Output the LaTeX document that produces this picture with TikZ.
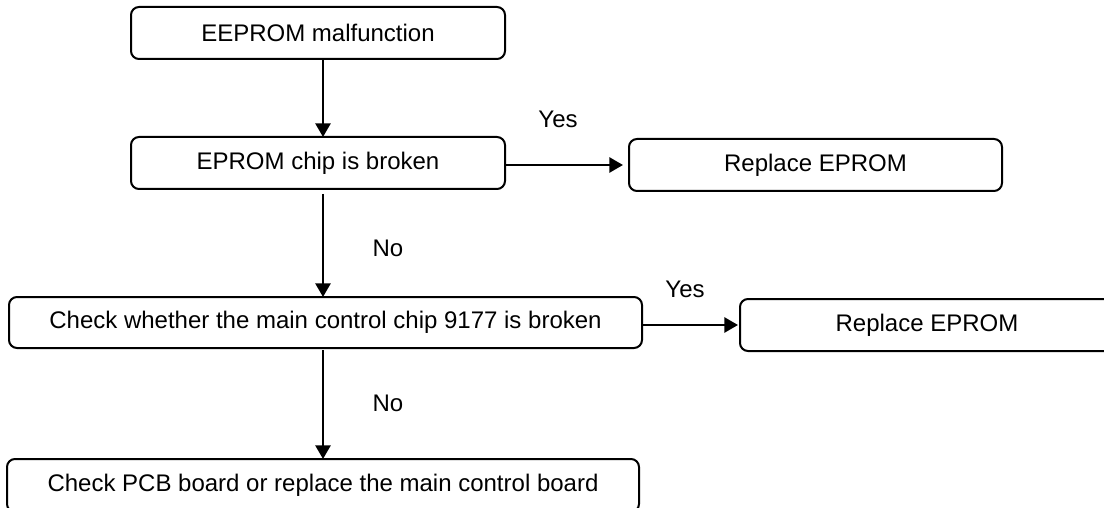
\documentclass[tikz,border=0pt]{standalone}
\usepackage{fontspec}
\setmainfont{Liberation Sans}
\usetikzlibrary{arrows.meta}

\begin{document}
\begin{tikzpicture}[x=0.5pt, y=-0.5pt,
		flowbox/.style={draw, line width=1pt, rounded corners=4pt, inner sep=0pt, outer sep=0pt, font=\fontsize{12}{14}\selectfont},
		flowlabel/.style={font=\fontsize{12}{14}\selectfont},
		flowarrow/.style={line width=1.25pt, -{Triangle[length=6.8pt, width=7.5pt]}}]
		%%%%% START %%%%%
		
		\useasboundingbox (0, 0) rectangle (1104, 508);
		\coordinate (spine) at (323, 0);
		
		\node[flowbox, minimum width=187pt, minimum height=26pt] (malfunction) at (318, 33) {EEPROM malfunction};
		\node[flowbox, minimum width=187pt, minimum height=26pt] (chipbroken) at (318, 163) {EPROM chip is broken};
		\node[flowbox, minimum width=186.5pt, minimum height=26pt] (replaceA) at (815.5, 165) {Replace EPROM};
		
		\node[flowbox, minimum width=316.5pt, minimum height=25.5pt] (checkmain) at (325.5, 322.5) {Check whether the main control chip 9177 is broken};
		\node[flowbox, minimum width=187pt, minimum height=26pt] (replaceB) at (927, 325) {Replace EPROM};
		
		\node[flowbox, minimum width=316pt, minimum height=26.5pt] (checkpcb) at (323, 485.5) {Check PCB board or replace the main control board};
		
		\node[flowlabel] (yesA) at (558, 119) {Yes};
		\node[flowlabel] (noA) at (388, 248) {No};
		\node[flowlabel] (yesB) at (685, 289) {Yes};
		\node[flowlabel] (noB) at (388, 403) {No};
		
		\draw[flowarrow] (malfunction.south -| spine) -- (chipbroken.north -| spine);
		\draw[flowarrow, shorten <=2.5pt] (chipbroken.south -| spine) -- (checkmain.north -| spine);
		\draw[flowarrow, shorten <=1pt] (checkmain.south -| spine) -- (checkpcb.north -| spine);
		
		\draw[flowarrow, shorten >=3pt] (chipbroken.east |- replaceA) -- (replaceA.west);
		\draw[flowarrow, shorten >=1pt] (checkmain.east |- replaceB) -- (replaceB.west);
		
		%%%%% END %%%%%
\end{tikzpicture}
\end{document}
